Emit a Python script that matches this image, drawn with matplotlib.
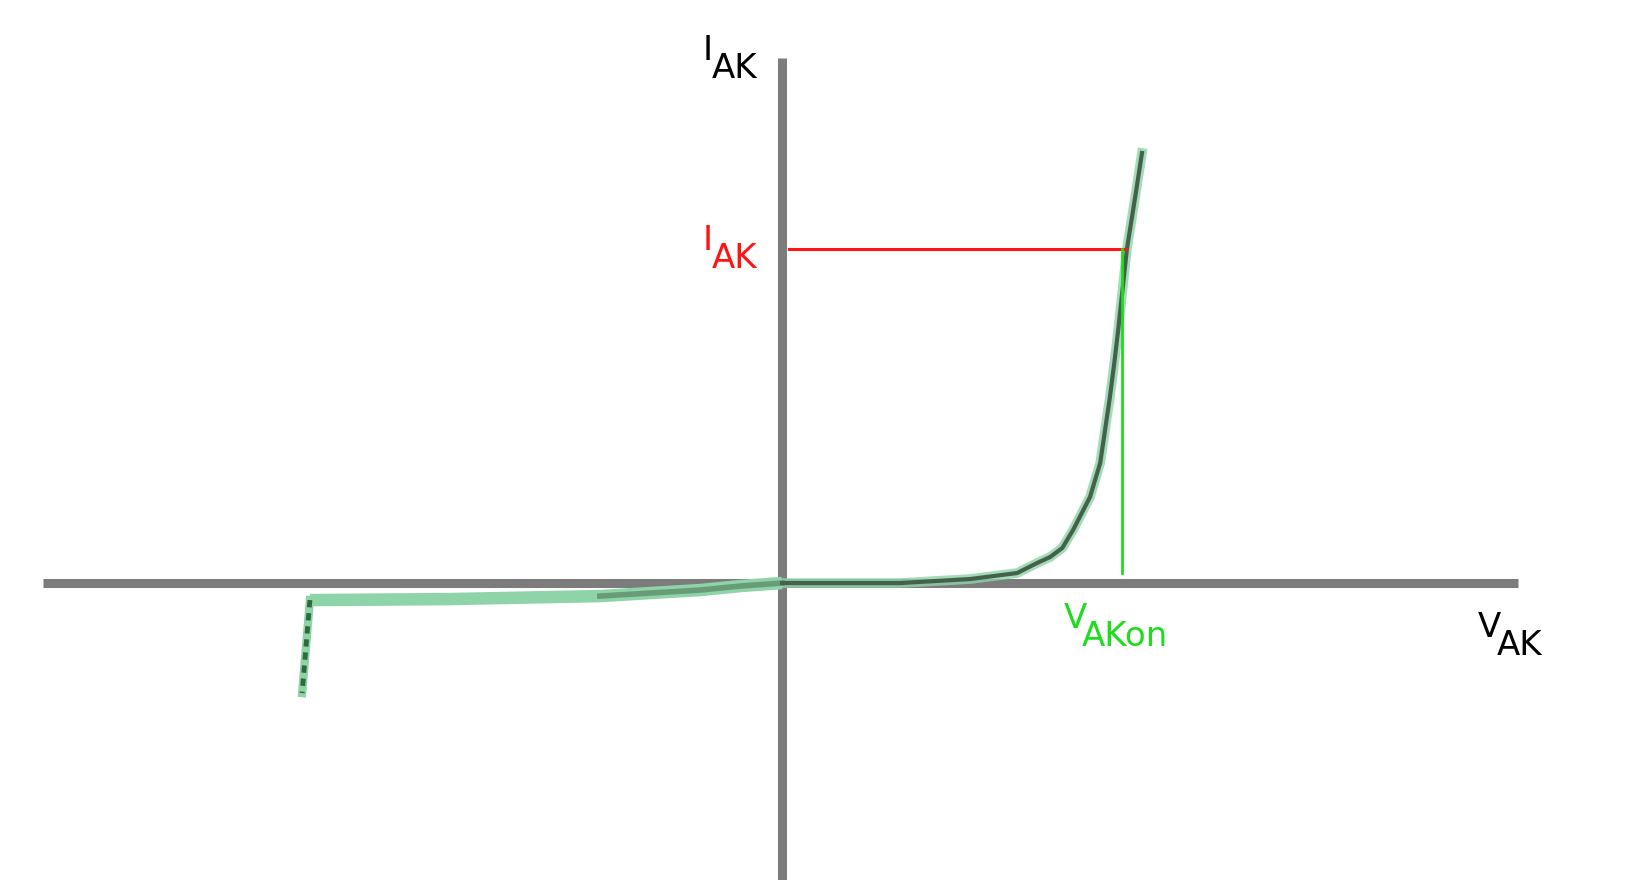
import numpy as np
import matplotlib.pyplot as plt

# diode characteristic, V in volts, I in mA (schematic)
fwd_v = [0.0, 0.243, 0.387, 0.484, 0.525, 0.552, 0.577, 0.599, 0.634, 0.655,
         0.665, 0.675, 0.684, 0.692, 0.710, 0.727, 0.741]
fwd_i = [0.0, 0.0, 0.24, 0.6, 1.20, 1.56, 2.1, 3.17, 5.15, 7.19,
         9.16, 11.14, 13.17, 15.15, 20.0, 23.11, 25.75]

rev_v = [-0.972, -0.684, -0.375, -0.169, -0.086, 0.0]
rev_i = [-1.02, -0.96, -0.78, -0.42, -0.18, 0.0]

bd_v = [-0.972, -0.988]
bd_i = [-1.02, -6.59]

v_on = 0.70
i_op = 20.0

axis_gray = "#7c7c7c"
curve_dark = "#44624b"
curve_light = "#8fd3a8"
red = "#ff1414"
green = "#1fdc1f"

fig = plt.figure(figsize=(16.35, 8.8), dpi=100)
ax = fig.add_axes([0, 0, 1, 1])
ax.set_xlim(-1.610, 1.756)
ax.set_ylim(-17.78, 34.91)
ax.axis("off")

# axes drawn as thick gray bars
ax.plot([-1.521, 1.516], [0, 0], color=axis_gray, lw=6.5, solid_capstyle="butt", zorder=1)
ax.plot([0, 0], [-17.78, 31.44], color=axis_gray, lw=6.5, solid_capstyle="butt", zorder=1)

# reverse region: light band, darker towards the origin
ax.plot(rev_v, rev_i, color=curve_light, lw=9, solid_capstyle="butt", zorder=2)
ax.plot(rev_v[2:], rev_i[2:], color="#5f8f6a", lw=4, alpha=0.8, zorder=3)

# breakdown
ax.plot(bd_v, bd_i, color=curve_light, lw=6, zorder=2)
ax.plot(bd_v, bd_i, color="#2f6a3d", lw=3.5, dashes=(1.5, 1.2), zorder=3)

# forward conduction
ax.plot(fwd_v, fwd_i, color=curve_light, lw=7, alpha=0.8, zorder=2,
        solid_joinstyle="round")
ax.plot(fwd_v, fwd_i, color=curve_dark, lw=3, zorder=3, solid_joinstyle="round")

# operating point guides
ax.plot([0.014, v_on + 0.008], [i_op, i_op], color=red, lw=2.2, zorder=4)
ax.plot([v_on, v_on], [i_op, 0.6], color=green, lw=2, zorder=4)


def label(x, y, base, sub, color, dx=0.042, dy=-1.08):
    ax.text(x, y, base, color=color, fontsize=24.5, ha="left", va="baseline",
            family="DejaVu Sans", zorder=5)
    ax.text(x + dx, y + dy, sub, color=color, fontsize=24.5, ha="left",
            va="baseline", family="DejaVu Sans", zorder=5)


label(-0.163, 31.32, "I", "AK", "black", dx=0.018)
label(-0.163, 19.94, "I", "AK", red, dx=0.018)
label(0.579, -2.69, "V", "AKon", green, dx=0.038)
label(1.433, -3.23, "V", "AK", "black", dx=0.039)

fig.savefig("out.png", dpi=100, facecolor="white")
